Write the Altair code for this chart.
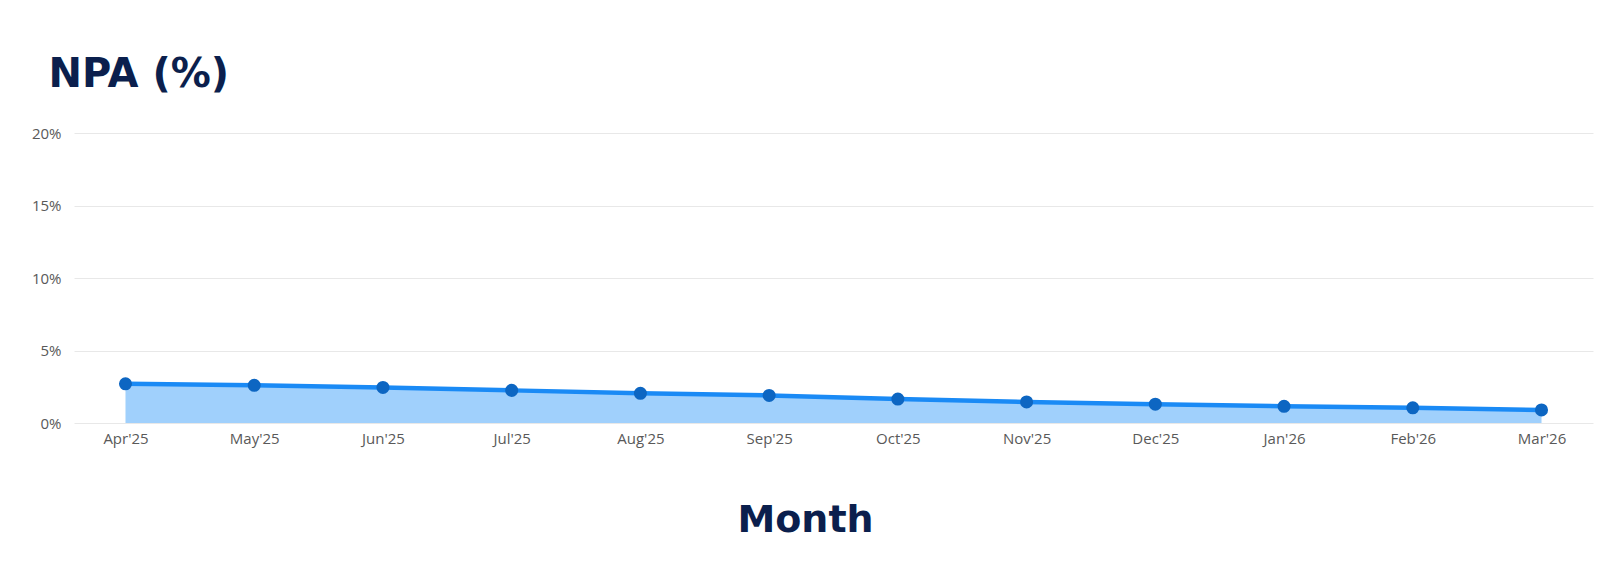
import altair as alt
import pandas as pd

months = ["Apr'25", "May'25", "Jun'25", "Jul'25", "Aug'25", "Sep'25",
          "Oct'25", "Nov'25", "Dec'25", "Jan'26", "Feb'26", "Mar'26"]
npa = [2.7, 2.6, 2.45, 2.25, 2.05, 1.9, 1.65, 1.45, 1.3, 1.15, 1.05, 0.9]
y_ticks = [0, 5, 10, 15, 20]

df = pd.DataFrame({"month": months, "npa": npa})

LABEL_FONT = "Open Sans"
TITLE_FONT = "DejaVu Sans"

x_enc = alt.X("month:N", sort=months,
              scale=alt.Scale(type="point", padding=0.4),
              axis=alt.Axis(title="Month", labelAngle=0, domain=False, ticks=False,
                            labelFont=LABEL_FONT, labelFontSize=15, labelColor="#595959",
                            labelPadding=8,
                            titleFont=TITLE_FONT, titleFontSize=38, titleFontWeight="bold",
                            titleColor="#0b1f4d", titleX=731, titleY=108,
                            titleAlign="center", titleBaseline="alphabetic"))
y_enc = alt.Y("npa:Q", scale=alt.Scale(domain=[0, 20]),
              axis=alt.Axis(title="NPA (%)", values=y_ticks,
                            labelExpr="datum.value + '%'",
                            domain=False, ticks=False, grid=True,
                            gridColor="#e8e8e8", gridWidth=1,
                            labelFont=LABEL_FONT, labelFontSize=15, labelColor="#595959",
                            labelPadding=13,
                            titleFont=TITLE_FONT, titleFontSize=40, titleFontWeight="bold",
                            titleColor="#0b1f4d", titleAngle=0, titleAlign="left",
                            titleBaseline="alphabetic", titleX=-26, titleY=-47))

base = alt.Chart(df)
area = base.mark_area(color="#a0d0fc", opacity=1).encode(x=x_enc, y=y_enc)
line = base.mark_line(color="#1a8af5", strokeWidth=4.5).encode(x=x_enc, y=y_enc)
pts = base.mark_circle(color="#0d66c2", size=170, opacity=1).encode(x=x_enc, y=y_enc)

chart = (area + line + pts).properties(
    width=1519, height=290,
    background="white",
    autosize=alt.AutoSizeParams(type="none"),
    padding={"left": 66, "top": 125, "right": 2, "bottom": 130},
).configure_view(stroke=None)

chart.save("out.html", embed_options={"renderer": "svg", "actions": False})
